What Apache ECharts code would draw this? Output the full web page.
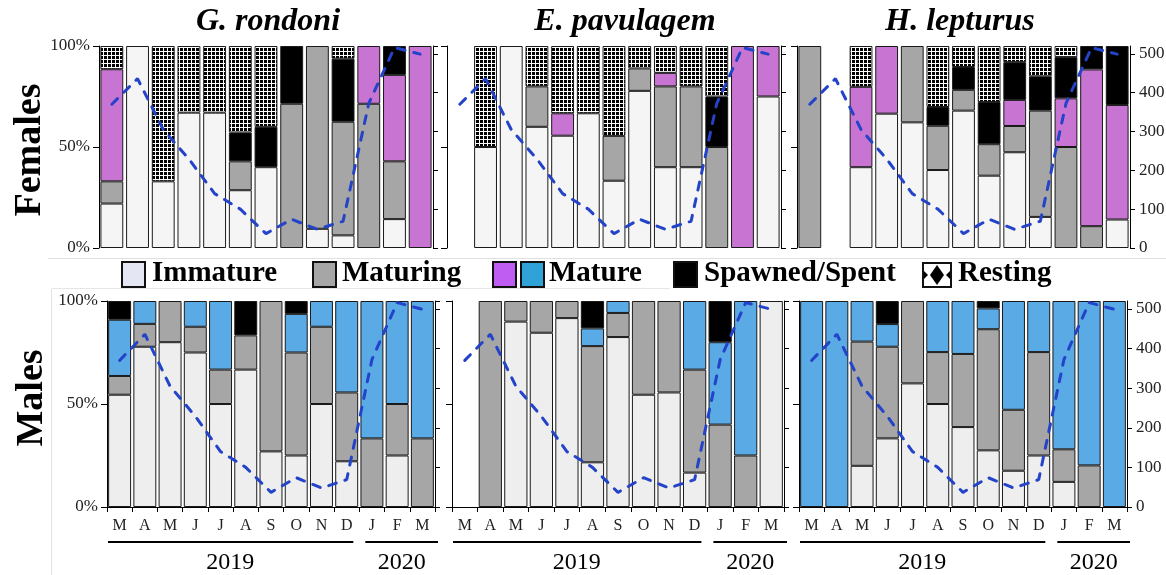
<!DOCTYPE html>
<html>
<head>
<meta charset="utf-8">
<script src="https://cdn.jsdelivr.net/npm/echarts@6.0.0/dist/echarts.min.js"></script>
<style>
  html, body { margin: 0; padding: 0; background: #fff; }
  #chart { width: 1166px; height: 575px; }
</style>
</head>
<body>
<div id="chart"></div>
<script>
// months (March 2019 .. March 2020) and the dashed line (right axis, 0-500)
var months = ['M', 'A', 'M', 'J', 'J', 'A', 'S', 'O', 'N', 'D', 'J', 'F', 'M'];
var rainfall = [370, 436, 305, 229, 140, 100, 37, 74, 48, 69, 372, 516, 499];

// G. rondoni - females (%)
var grF_immature = [22, 100, 33, 67, 67, 28.6, 40, 0, 9.5, 6.25, 0, 14.3, 0];
var grF_maturing = [11, 0, 0, 0, 0, 14.3, 0, 71.4, 90.5, 56.25, 71.4, 28.6, 0];
var grF_mature   = [55.5, 0, 0, 0, 0, 0, 0, 0, 0, 0, 28.6, 42.8, 100];
var grF_spent    = [0, 0, 0, 0, 0, 14.3, 20, 28.6, 0, 31.25, 0, 14.3, 0];
var grF_resting  = [11.5, 0, 67, 33, 33, 42.8, 40, 0, 0, 6.25, 0, 0, 0];

// E. pavulagem - females (%)
var epF_immature = [0, 50, 100, 60, 55.6, 66.7, 33.3, 77.8, 40, 40, 0, 0, 75];
var epF_maturing = [0, 0, 0, 20, 0, 0, 22.2, 11.1, 40, 40, 50, 0, 0];
var epF_mature   = [0, 0, 0, 0, 11.1, 0, 0, 0, 6.7, 0, 0, 100, 25];
var epF_spent    = [0, 0, 0, 0, 0, 0, 0, 0, 0, 0, 25, 0, 0];
var epF_resting  = [0, 50, 0, 20, 33.3, 33.3, 44.5, 11.1, 13.3, 20, 25, 0, 0];

// H. lepturus - females (%)
var hlF_immature = [0, 0, 40, 66.5, 62.2, 38.6, 68, 35.8, 47.4, 15.4, 0, 0, 14.1];
var hlF_maturing = [100, 0, 0, 0, 37.8, 21.9, 10.3, 15.6, 13, 52.6, 50, 10.8, 0];
var hlF_mature   = [0, 0, 39.8, 33.5, 0, 0, 0, 0, 12.9, 0, 24.1, 77.6, 56.7];
var hlF_spent    = [0, 0, 0, 0, 0, 9.3, 11.3, 20.9, 18.7, 17, 20.4, 11.6, 29.2];
var hlF_resting  = [0, 0, 20.2, 0, 0, 30.2, 10.4, 27.7, 8, 15, 5.5, 0, 0];

// G. rondoni - males (%)
var grM_immature = [54.5, 77.8, 80, 75, 50, 66.7, 27, 25, 50, 22.2, 0, 25, 0];
var grM_maturing = [9.1, 11.1, 20, 12.5, 16.7, 16.6, 73, 50, 37.5, 33.4, 33.3, 25, 33.3];
var grM_mature   = [27.3, 11.1, 0, 12.5, 33.3, 0, 0, 18.75, 12.5, 44.4, 66.7, 50, 66.7];
var grM_spent    = [9.1, 0, 0, 0, 0, 16.7, 0, 6.25, 0, 0, 0, 0, 0];

// E. pavulagem - males (%)
var epM_immature = [0, 0, 90, 84.6, 91.7, 21.7, 82.5, 54.5, 55.6, 16.7, 0, 0, 100];
var epM_maturing = [0, 100, 10, 15.4, 8.3, 56.4, 11.7, 45.5, 44.4, 50, 40, 25, 0];
var epM_mature   = [0, 0, 0, 0, 0, 8.6, 5.8, 0, 0, 33.3, 40, 75, 0];
var epM_spent    = [0, 0, 0, 0, 0, 13.3, 0, 0, 0, 0, 20, 0, 0];

// H. lepturus - males (%)
var hlM_immature = [0, 0, 20, 33.3, 60, 50, 38.8, 27.5, 17.6, 25, 12.2, 0, 0];
var hlM_maturing = [0, 0, 60.3, 44.5, 40, 25.2, 35.5, 58.8, 29.6, 50.2, 15.8, 20.2, 0];
var hlM_mature   = [100, 100, 19.7, 11, 0, 24.8, 25.7, 10.1, 52.8, 24.8, 72, 79.8, 100];
var hlM_spent    = [0, 0, 0, 11.2, 0, 0, 0, 3.6, 0, 0, 0, 0, 0];

var stages = ['Immature', 'Maturing', 'Mature', 'Spawned/Spent', 'Resting'];
var panels = [
  [grF_immature, grF_maturing, grF_mature, grF_spent, grF_resting],
  [epF_immature, epF_maturing, epF_mature, epF_spent, epF_resting],
  [hlF_immature, hlF_maturing, hlF_mature, hlF_spent, hlF_resting],
  [grM_immature, grM_maturing, grM_mature, grM_spent],
  [epM_immature, epM_maturing, epM_mature, epM_spent],
  [hlM_immature, hlM_maturing, hlM_mature, hlM_spent]
];

// layout of the six plot areas
var boxes = [
  {left: 99,  top: 46,  width: 334, height: 202},
  {left: 447, top: 46,  width: 334, height: 202},
  {left: 797, top: 46,  width: 333, height: 202},
  {left: 107, top: 301, width: 328, height: 206},
  {left: 452, top: 301, width: 332, height: 206},
  {left: 799, top: 301, width: 328, height: 206}
];

var serif = '"Liberation Serif", "Times New Roman", serif';

// resting = dotted pattern (black dots, thin white gaps)
function makePattern() {
  var c = document.createElement('canvas');
  c.width = 4; c.height = 4;
  var g = c.getContext('2d');
  g.fillStyle = '#ffffff';
  g.fillRect(0, 0, 4, 4);
  g.fillStyle = '#000000';
  g.fillRect(0, 0, 3, 3);
  return c;
}
var restPattern = {image: makePattern(), repeat: 'repeat'};

function stageColor(stage, male) {
  if (stage == 0) return male ? '#eeeeee' : '#f5f5f5';
  if (stage == 1) return '#a6a6a6';
  if (stage == 2) return male ? '#5aaae6' : '#c874d2';
  if (stage == 3) return '#000000';
  return restPattern;
}

var chart = echarts.init(document.getElementById('chart'), null, {renderer: 'canvas'});

var grids = [], xAxes = [], yAxes = [], series = [];
for (var p = 0; p < 6; p++) {
  var b = boxes[p];
  var bottomRow = p >= 3;
  grids.push({left: b.left, top: b.top, width: b.width, height: b.height,
    containLabel: false, outerBoundsMode: 'none'});
  xAxes.push({
    gridIndex: p,
    type: 'category',
    data: months,
    axisLine: {show: bottomRow, lineStyle: {color: '#000', width: 1}},
    axisTick: {show: bottomRow, length: 5, lineStyle: {color: '#000'}},
    axisLabel: {show: bottomRow, interval: 0, margin: 11, color: '#222',
      fontFamily: serif, fontSize: 16},
    splitLine: {show: false}
  });
  // left: percent
  yAxes.push({
    gridIndex: p, type: 'value', position: 'left',
    min: 0, max: 100, interval: 50,
    axisLine: {show: true, lineStyle: {color: '#000'}},
    axisTick: {show: true, length: 6, lineStyle: {color: '#000'}},
    axisLabel: {show: p == 0 || p == 3, formatter: '{value}%', margin: 9,
      color: '#222', fontFamily: serif, fontSize: 17},
    splitLine: {show: false}
  });
  // right: dashed line scale
  yAxes.push({
    gridIndex: p, type: 'value', position: 'right',
    min: 0, max: 520, interval: 100,
    axisLine: {show: true, lineStyle: {color: '#000'}},
    axisTick: {show: true, length: 5, lineStyle: {color: '#000'}},
    axisLabel: {show: p == 2 || p == 5, showMaxLabel: false, margin: 9,
      color: '#222', fontFamily: serif, fontSize: 17},
    splitLine: {show: false}
  });

  var sets = panels[p];
  for (var s = 0; s < sets.length; s++) {
    series.push({
      name: stages[s],
      type: 'bar',
      xAxisIndex: p,
      yAxisIndex: p * 2,
      stack: 'panel' + p,
      barCategoryGap: bottomRow ? '9%' : '11%',
      itemStyle: {color: stageColor(s, bottomRow), borderColor: '#1a1a1a', borderWidth: 1},
      data: sets[s].map(function (v) { return v > 0 ? v : null; })
    });
  }
  series.push({
    name: 'rain' + p,
    type: 'line',
    xAxisIndex: p,
    yAxisIndex: p * 2 + 1,
    data: rainfall,
    symbol: 'none',
    z: 5,
    lineStyle: {color: '#2343c9', width: 3, type: [8, 9], cap: 'round'}
  });
}

// texts, legend and year brackets
var graphics = [];
function txt(x, y, text, font, align, rot) {
  graphics.push({type: 'text', x: x, y: y, rotation: rot || 0, silent: true,
    style: {text: text, font: font, fill: '#000', align: align || 'center', verticalAlign: 'middle'}});
}
function box(x, y, w, h, fill) {
  graphics.push({type: 'rect', silent: true, shape: {x: x, y: y, width: w, height: h},
    style: {fill: fill, stroke: '#111', lineWidth: 2}});
}
function hline(x1, x2, y, color, w) {
  graphics.push({type: 'line', silent: true, shape: {x1: x1, y1: y, x2: x2, y2: y},
    style: {stroke: color, lineWidth: w}});
}

// faint frame lines of the original figure
hline(48, 1166, 258.5, '#e0e0e0', 1);
hline(52, 670, 288.5, '#e6e6e6', 1);
graphics.push({type: 'line', silent: true, shape: {x1: 51.5, y1: 289, x2: 51.5, y2: 575},
  style: {stroke: '#e2e2e2', lineWidth: 1}});

txt(268, 22, 'G. rondoni', 'italic bold 32px ' + serif);
txt(625, 22, 'E. pavulagem', 'italic bold 32px ' + serif);
txt(960, 22, 'H. lepturus', 'italic bold 32px ' + serif);
txt(30, 150, 'Females', 'bold 38px ' + serif, 'center', Math.PI / 2);
txt(32, 398, 'Males', 'bold 38px ' + serif, 'center', Math.PI / 2);

var legFont = 'bold 29px ' + serif;
box(122, 262, 23, 25, '#e4e6f4');
txt(152, 274, 'Immature', legFont, 'left');
box(313, 262, 23, 25, '#a6a6a6');
txt(342, 274, 'Maturing', legFont, 'left');
box(493, 262, 23, 25, '#bf5cf2');
box(521, 262, 23, 25, '#2fa2d8');
txt(549, 274, 'Mature', legFont, 'left');
box(674, 262, 23, 25, '#000000');
txt(704, 274, 'Spawned/Spent', legFont, 'left');
box(923, 263, 28, 24, '#ffffff');
graphics.push({type: 'polygon', silent: true,
  shape: {points: [[937, 265], [944, 275], [937, 285], [930, 275]]},
  style: {fill: '#000'}});
graphics.push({type: 'polygon', silent: true,
  shape: {points: [[924, 271], [928, 275], [924, 279]]}, style: {fill: '#000'}});
graphics.push({type: 'polygon', silent: true,
  shape: {points: [[950, 271], [946, 275], [950, 279]]}, style: {fill: '#000'}});
txt(958, 274, 'Resting', legFont, 'left');

for (var q = 3; q < 6; q++) {
  var g = boxes[q];
  var cw = g.width / 13;
  var split = g.left + 10 * cw;
  hline(g.left + 1, split - 6, 542, '#000', 2);
  hline(split + 6, g.left + g.width + 3, 542, '#000', 2);
  txt((g.left + split - 6) / 2, 563, '2019', '24px ' + serif);
  txt((split + 6 + g.left + g.width + 3) / 2, 563, '2020', '24px ' + serif);
}

var option = {
  animation: false,
  backgroundColor: '#ffffff',
  grid: grids,
  xAxis: xAxes,
  yAxis: yAxes,
  series: series,
  graphic: graphics
};
chart.setOption(option);
</script>
</body>
</html>
